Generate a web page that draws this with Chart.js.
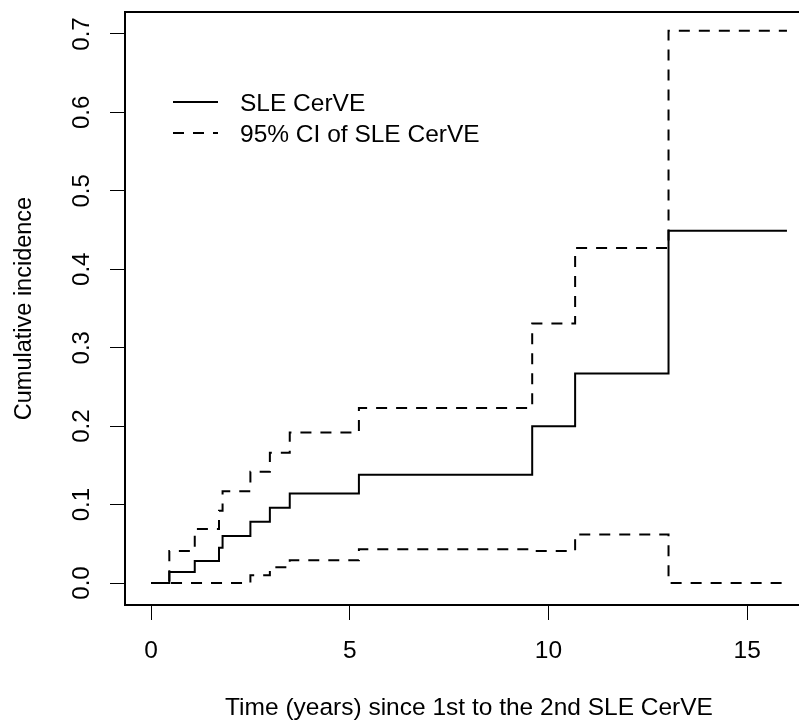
<!DOCTYPE html>
<html>
<head>
<meta charset="utf-8">
<script src="https://cdn.jsdelivr.net/npm/chart.js@4.4.0/dist/chart.umd.min.js"></script>
<style>
html, body { margin: 0; padding: 0; background: #fff; overflow: hidden; }
#wrap { width: 813px; height: 727px; }
</style>
</head>
<body>
<div id="wrap"><canvas id="chart1" width="813" height="727"></canvas></div>
<script>
// temps des sauts (années) et niveaux de l'incidence cumulée
var stepTimes = [0, 0.46, 1.10, 1.71, 1.80, 2.50, 2.99, 3.49, 5.23, 9.59, 10.67, 13.02, 16];
var estimate  = [0, 0.014, 0.028, 0.045, 0.060, 0.078, 0.096, 0.114, 0.138, 0.200, 0.267, 0.449, 0.449];
var upperCI   = [0, 0.041, 0.069, 0.092, 0.117, 0.142, 0.166, 0.192, 0.223, 0.331, 0.427, 0.704, 0.704];
var lowerCI   = [0, 0, 0, 0, 0, 0.010, 0.020, 0.029, 0.043, 0.041, 0.062, 0, 0];

var xTicks = [0, 5, 10, 15];
var yTicks = [0, 0.1, 0.2, 0.3, 0.4, 0.5, 0.6, 0.7];
var legendLabels = ["SLE CerVE", "95% CI of SLE CerVE"];
var xTitle = "Time (years) since 1st to the 2nd SLE CerVE";
var yTitle = "Cumulative incidence";

Chart.defaults.font.family = '"Liberation Sans", Arial, sans-serif';
Chart.defaults.font.size = 24.5;
Chart.defaults.color = '#000';

function toPoints(values){
    return stepTimes.map(function(t, i){ return {x: t, y: values[i]}; });
}

// cadre + légende (style R)
const boxLegend = {
    id: 'boxLegend',
    afterDraw(chart){
        const ctx = chart.ctx;
        const a = chart.chartArea;
        ctx.save();
        ctx.strokeStyle = '#000';
        ctx.lineWidth = 2;
        ctx.strokeRect(a.left, a.top, a.right - a.left, a.bottom - a.top);

        ctx.font = '24.5px "Liberation Sans", Arial, sans-serif';
        ctx.textBaseline = 'middle';
        ctx.fillStyle = '#000';
        legendLabels.forEach(function(label, i){
            var y = a.top + 90 + i * 31;
            ctx.setLineDash(i === 0 ? [] : [11, 9]);
            ctx.beginPath();
            ctx.moveTo(a.left + 48, y);
            ctx.lineTo(a.left + 93, y);
            ctx.stroke();
            ctx.setLineDash([]);
            ctx.fillText(label, a.left + 115, y + 2.5);
        });
        ctx.restore();
    }
};

const lineStyle = {
    borderColor: '#000',
    borderWidth: 2,
    pointRadius: 0,
    stepped: true,
    fill: false
};

ctx = document.getElementById('chart1').getContext('2d');

const myChart = new Chart(ctx, {
    type: 'line',
    data: {
        datasets: [
            Object.assign({ label: 'lower', data: toPoints(lowerCI), borderDash: [11, 9] }, lineStyle),
            Object.assign({ label: 'upper', data: toPoints(upperCI), borderDash: [11, 9] }, lineStyle),
            Object.assign({ label: legendLabels[0], data: toPoints(estimate) }, lineStyle)
        ]
    },
    options: {
        responsive: false,
        animation: false,
        devicePixelRatio: 1,
        events: [],
        layout: { padding: { top: 12, left: 0, right: 0, bottom: 0 } },
        plugins: { legend: { display: false }, tooltip: { enabled: false } },
        scales: {
            x: {
                type: 'linear',
                min: -0.655,
                max: 16.655,
                afterBuildTicks: function(s){ s.ticks = xTicks.map(function(v){ return {value: v}; }); },
                afterFit: function(s){ s.height = 122; s.paddingLeft = 0; s.paddingRight = 0; },
                grid: { drawOnChartArea: false, drawTicks: true, tickLength: 15, tickColor: '#000', lineWidth: 1 },
                border: { display: false },
                ticks: { padding: 17, maxRotation: 0, autoSkip: false, callback: function(v){ return String(v); } },
                title: { display: true, text: xTitle, padding: { top: 0, bottom: 4 } }
            },
            y: {
                type: 'linear',
                min: -0.028,
                max: 0.728,
                afterBuildTicks: function(s){ s.ticks = yTicks.map(function(v){ return {value: v}; }); },
                afterFit: function(s){ s.width = 125; s.paddingTop = 0; s.paddingBottom = 0; },
                grid: { drawOnChartArea: false, drawTicks: true, tickLength: 15, tickColor: '#000', lineWidth: 1 },
                border: { display: false },
                ticks: { minRotation: 90, maxRotation: 90, crossAlign: 'center', padding: 11, autoSkip: false,
                         font: { size: 24 },
                         callback: function(v){ return v.toFixed(1); } },
                title: { display: true, text: yTitle, font: { size: 23.5 }, padding: { top: 10, bottom: 0 } }
            }
        }
    },
    plugins: [boxLegend]
});
</script>
</body>
</html>
